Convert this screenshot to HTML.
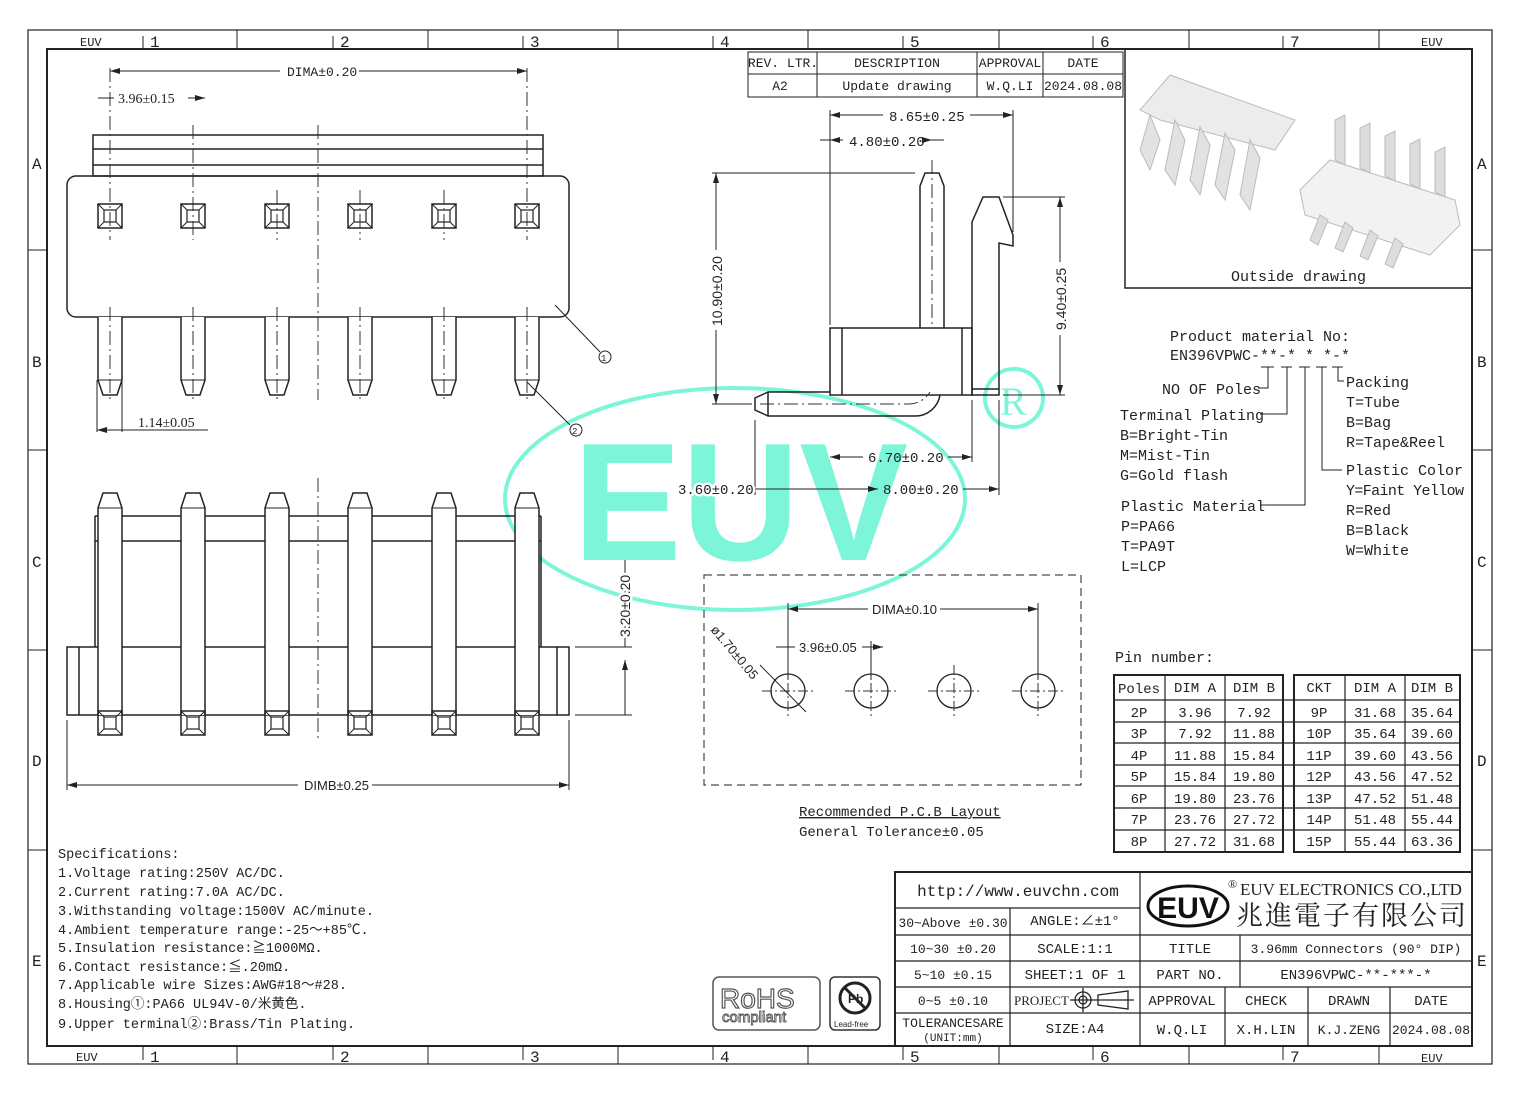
<!DOCTYPE html>
<html><head><meta charset="utf-8"><style>
html,body{margin:0;padding:0;background:#fff}
svg{display:block}
text{font-family:"Liberation Mono","Noto Sans CJK SC",monospace;fill:#222}
.s{font-family:"Liberation Serif","Noto Serif CJK SC",serif}
.a{font-family:"Liberation Sans",sans-serif}
.bg{paint-order:stroke;stroke:#fff;stroke-width:5px;stroke-linejoin:round}
</style></head><body>
<svg width="1520" height="1096" viewBox="0 0 1520 1096" xmlns="http://www.w3.org/2000/svg">
<defs>
<g id="sq"><rect x="-12" y="-12" width="24" height="24" fill="none" stroke="#222" stroke-width="1.5"/><rect x="-6" y="-6" width="12" height="12" fill="none" stroke="#222" stroke-width="1.2"/><path d="M-12-12L-6-6M12-12L6-6M-12 12L-6 6M12 12L6 6" stroke="#222"/></g>
<g id="pinb"><path d="M-12 0V63L-7 78H7L12 63V0" fill="#fff" stroke="#222" stroke-width="1.5"/><path d="M-12 63H12" stroke="#222"/><path d="M0-10V85" stroke="#333" stroke-dasharray="14 4 2 4"/></g>
<g id="pinf"><path d="M-12 222V15L-7 0H7L12 15V222" fill="#fff" stroke="#222" stroke-width="1.5"/><path d="M-12 15H12" stroke="#222"/></g>
<g id="hole"><circle r="17" fill="none" stroke="#222" stroke-width="1.3"/><path d="M-26 0H26M0-26V26" stroke="#333" stroke-dasharray="10 3 2 3"/></g>
<marker id="ar" markerWidth="10" markerHeight="6" refX="10" refY="3" orient="auto-start-reverse"><path d="M0 0L10 3L0 6z" fill="#222"/></marker>
</defs>
<rect x="28" y="30" width="1464" height="1034" fill="none" stroke="#222" stroke-width="1.2"/>
<rect x="47" y="49" width="1425" height="997" fill="none" stroke="#222" stroke-width="2"/>
<g stroke="#222" stroke-width="1">
<path d="M237 30V49M428 30V49M618 30V49M808 30V49M999 30V49M1189 30V49M1379 30V49"/>
<path d="M237 1046V1064M428 1046V1064M618 1046V1064M808 1046V1064M999 1046V1064M1189 1046V1064M1379 1046V1064"/>
<path d="M28 250H47M28 450H47M28 650H47M28 850H47M1472 250H1492M1472 450H1492M1472 650H1492M1472 850H1492"/>
<path d="M143 36V49M333 36V49M523 36V49M713 36V49M903 36V49M1093 36V49M1283 36V49"/>
<path d="M143 1046V1060M333 1046V1060M523 1046V1060M713 1046V1060M903 1046V1060M1093 1046V1060M1283 1046V1060"/>
</g>
<g font-size="16">
<text x="150" y="47">1</text><text x="340" y="47">2</text><text x="530" y="47">3</text><text x="720" y="47">4</text><text x="910" y="47">5</text><text x="1100" y="47">6</text><text x="1290" y="47">7</text>
<text x="150" y="1062">1</text><text x="340" y="1062">2</text><text x="530" y="1062">3</text><text x="720" y="1062">4</text><text x="910" y="1062">5</text><text x="1100" y="1062">6</text><text x="1290" y="1062">7</text>
<text x="32" y="169">A</text><text x="32" y="367">B</text><text x="32" y="567">C</text><text x="32" y="766">D</text><text x="32" y="966">E</text>
<text x="1477" y="169">A</text><text x="1477" y="367">B</text><text x="1477" y="567">C</text><text x="1477" y="766">D</text><text x="1477" y="966">E</text>
</g>
<g font-size="12"><text x="80" y="46">EUV</text><text x="1421" y="46">EUV</text><text x="76" y="1061">EUV</text><text x="1421" y="1062">EUV</text></g>

<ellipse cx="735" cy="499" rx="230" ry="111" fill="none" stroke="#7df5d8" stroke-width="4"/>
<text x="573" y="560" font-size="168" font-weight="bold" class="a" style="fill:#7df5d8" textLength="335" lengthAdjust="spacingAndGlyphs">EUV</text>
<circle cx="1014" cy="398" r="29" fill="none" stroke="#7df5d8" stroke-width="4"/>
<text x="1000" y="415" font-size="40" class="s" style="fill:#7df5d8">R</text>

<g stroke="#222" fill="none"><rect x="748" y="52" width="375" height="45"/><path d="M748 74H1123M817 52V97M977 52V97M1043 52V97"/></g>
<g font-size="13" text-anchor="middle"><text x="783" y="67">REV. LTR.</text><text x="897" y="67">DESCRIPTION</text><text x="1010" y="67">APPROVAL</text><text x="1083" y="67">DATE</text>
<text x="780" y="90">A2</text><text x="897" y="90">Update drawing</text><text x="1010" y="90">W.Q.LI</text><text x="1083" y="90">2024.08.08</text></g>

<rect x="1125" y="49" width="347" height="239" fill="none" stroke="#222" stroke-width="1.5"/>
<g fill="#ececec" stroke="#bbb">
<path d="M1140 110L1170 75L1295 120L1275 150L1160 120Z"/>
<path d="M1150 115L1140 150L1150 170L1160 140ZM1175 120L1165 170L1175 185L1185 140ZM1200 127L1190 180L1200 195L1210 145ZM1225 133L1215 185L1225 200L1235 150ZM1250 140L1240 195L1250 210L1260 158Z" fill="#e2e2e2"/>
<path d="M1300 190L1330 160L1455 200L1460 225L1430 255L1305 215Z" fill="#f2f2f2"/>
<path d="M1335 160V120L1345 115V165ZM1360 168V128L1370 123V173ZM1385 176V136L1395 131V181ZM1410 184V144L1420 139V189ZM1435 192V152L1445 147V197Z" fill="#ddd"/>
<path d="M1320 215L1310 240L1318 245L1328 220ZM1345 222L1335 248L1343 252L1353 228ZM1370 230L1360 256L1368 260L1378 236ZM1395 238L1385 264L1393 268L1403 244Z" fill="#ddd"/>
</g>
<text x="1231" y="281" font-size="15">Outside drawing</text>

<g stroke="#222" stroke-width="1.5" fill="none">
<rect x="93" y="135" width="450" height="41"/><path d="M93 149H543M93 165H543"/>
<rect x="67" y="176" width="502" height="141" rx="9"/>
</g>
<path d="M318 125V400" stroke="#333" stroke-dasharray="14 4 2 4"/>
<g stroke="#333" stroke-dasharray="14 4 2 4"><path d="M110 68V240M527 68V240M193 125V240M277 190V240M360 190V240M444 190V240"/></g>
<use href="#sq" x="110" y="216"/><use href="#sq" x="193" y="216"/><use href="#sq" x="277" y="216"/><use href="#sq" x="360" y="216"/><use href="#sq" x="444" y="216"/><use href="#sq" x="527" y="216"/>
<use href="#pinb" x="110" y="317"/><use href="#pinb" x="193" y="317"/><use href="#pinb" x="277" y="317"/><use href="#pinb" x="360" y="317"/><use href="#pinb" x="444" y="317"/><use href="#pinb" x="527" y="317"/>
<g stroke="#222" fill="none">
<path d="M110 71H280M355 71H527" marker-start="url(#ar)" marker-end="url(#ar)"/>
<path d="M98 98H110M193 98H205" marker-end="url(#ar)"/><path d="M110 98H114M188 98H193"/>
<path d="M97 380V432M122 380V432"/><path d="M97 430H122H208" marker-start="url(#ar)"/>
<path d="M555 305L600 352"/><circle cx="605" cy="357" r="6"/>
<path d="M527 382L570 425"/><circle cx="576" cy="430" r="6"/>
</g>
<g font-size="14" class="a"><text x="287" y="76" font-size="13" class="bg">DIMA±0.20</text><text x="118" y="103" class="s">3.96±0.15</text><text x="138" y="427" class="s">1.14±0.05</text></g>
<text x="601" y="361" font-size="9">1</text><text x="572" y="434" font-size="9">2</text>

<g stroke="#222" stroke-width="1.5" fill="none">
<path d="M95 516H541M95 541H541M95 516V647M541 516V647"/>
<rect x="67" y="647" width="502" height="68"/><path d="M79 647V715M557 647V715"/>
</g>
<use href="#pinf" x="110" y="493"/><use href="#pinf" x="193" y="493"/><use href="#pinf" x="277" y="493"/><use href="#pinf" x="360" y="493"/><use href="#pinf" x="444" y="493"/><use href="#pinf" x="527" y="493"/>
<path d="M318 478V740" stroke="#333" stroke-dasharray="14 4 2 4"/>
<use href="#sq" x="110" y="723"/><use href="#sq" x="193" y="723"/><use href="#sq" x="277" y="723"/><use href="#sq" x="360" y="723"/><use href="#sq" x="444" y="723"/><use href="#sq" x="527" y="723"/>
<g stroke="#222" fill="none">
<path d="M67 720V790M569 720V790"/><path d="M67 785H298M372 785H569" marker-start="url(#ar)" marker-end="url(#ar)"/>
<path d="M575 647H632M575 715H632"/><path d="M625 560V647M625 715V660" marker-end="url(#ar)"/>
</g>
<text x="304" y="790" font-size="13" class="a">DIMB±0.25</text>
<text transform="translate(630 637) rotate(-90)" font-size="14" class="a bg">3.20±0.20</text>

<g stroke="#222" stroke-width="1.5" fill="none">
<path d="M920 328V186L925 173H939L944 186V328"/>
<path d="M972 328V222L983 197H999L1013 235V246L999 243V395H972Z"/>
<path d="M972 389H999"/>
<path d="M830 392H768L755 398V410L768 416H915A25 25 0 0 0 940 395"/>
<path d="M768 392V416"/>
<rect x="830" y="328" width="142" height="67"/><path d="M842 328V395M962 328V395"/>
</g>
<path d="M932 160V325M760 404H910A25 25 0 0 0 930 392" stroke="#333" fill="none" stroke-dasharray="14 4 2 4"/>
<g stroke="#222" fill="none">
<path d="M830 110V325M1013 110V232M755 420V495M999 400V495M972 400V462"/>
<path d="M830 115H883M970 115H1013" marker-start="url(#ar)" marker-end="url(#ar)"/>
<path d="M820 140H830M932 140H944"/><path d="M830 140H843" marker-start="url(#ar)"/><path d="M930 140H932" marker-end="url(#ar)"/>
<path d="M712 173H915M712 404H752"/><path d="M716 173V250M716 330V404" marker-start="url(#ar)" marker-end="url(#ar)"/>
<path d="M1003 197H1065M1003 395H1065"/><path d="M1060 197V262M1060 335V395" marker-start="url(#ar)" marker-end="url(#ar)"/>
<path d="M830 457H863M948 457H972" marker-start="url(#ar)" marker-end="url(#ar)"/>
<path d="M745 489H755M830 489H878" marker-end="url(#ar)" marker-start="url(#ar)"/><path d="M755 489H830"/><path d="M963 489H999" marker-end="url(#ar)"/>
</g>
<g font-size="14" class="a"><text x="889" y="121">8.65±0.25</text><text x="849" y="146">4.80±0.20</text><text x="868" y="462">6.70±0.20</text><text x="883" y="494">8.00±0.20</text><text x="678" y="494" class="bg">3.60±0.20</text></g>
<text transform="translate(722 326) rotate(-90)" font-size="14" class="a">10.90±0.20</text>
<text transform="translate(1066 330) rotate(-90)" font-size="14" class="a">9.40±0.25</text>

<rect x="704" y="575" width="377" height="210" fill="none" stroke="#222" stroke-dasharray="8 5"/>
<use href="#hole" x="788" y="691"/><use href="#hole" x="871" y="691"/><use href="#hole" x="954" y="691"/><use href="#hole" x="1038" y="691"/>
<g stroke="#222" fill="none">
<path d="M788 603V680M1038 603V680M871 641V680"/>
<path d="M788 609H868M940 609H1038" marker-start="url(#ar)" marker-end="url(#ar)"/>
<path d="M776 647H788M871 647H883" marker-end="url(#ar)"/><path d="M788 647H795M862 647H871"/>
<path d="M760 665L806 712"/>
</g>
<text x="872" y="614" font-size="13" class="a">DIMA±0.10</text>
<text x="799" y="652" font-size="13" class="a">3.96±0.05</text>
<text transform="translate(710 630) rotate(50)" font-size="13" class="a">ø1.70±0.05</text>
<text x="799" y="816" font-size="14" text-decoration="underline">Recommended P.C.B Layout</text>
<text x="799" y="836" font-size="14">General Tolerance±0.05</text>

<g font-size="15">
<text x="1170" y="341">Product material No:</text>
<text x="1170" y="360">EN396VPWC-**-* * *-*</text>
<text x="1162" y="394">NO OF Poles</text>
<text x="1120" y="420">Terminal Plating</text>
<text x="1120" y="440">B=Bright-Tin</text><text x="1120" y="460">M=Mist-Tin</text><text x="1120" y="480">G=Gold flash</text>
<text x="1121" y="511">Plastic Material</text>
<text x="1121" y="531">P=PA66</text><text x="1121" y="551">T=PA9T</text><text x="1121" y="571">L=LCP</text>
<text x="1346" y="387">Packing</text><text x="1346" y="407">T=Tube</text><text x="1346" y="427">B=Bag</text><text x="1346" y="447">R=Tape&amp;Reel</text>
<text x="1346" y="475">Plastic Color</text><text x="1346" y="495" textLength="118">Y=Faint Yellow</text><text x="1346" y="515">R=Red</text><text x="1346" y="535">B=Black</text><text x="1346" y="555">W=White</text>
<text x="1115" y="662">Pin number:</text>
</g>
<g stroke="#222" fill="none">
<path d="M1261 367H1274M1281 367H1292M1299 367H1310M1316 367H1327M1332 367H1343"/>
<path d="M1268 367V388H1258M1287 367V414H1260M1305 367V505H1260M1322 367V470H1342M1338 367V381H1344"/>
</g>

<g stroke="#222" fill="none" stroke-width="1.2">
<rect x="1114" y="675" width="169" height="177" stroke-width="2"/><rect x="1294" y="675" width="166" height="177" stroke-width="2"/>
<path d="M1165 675V852M1225 675V852M1345 675V852M1405 675V852"/>
<path d="M1114 700H1460M1114 722H1460M1114 743H1460M1114 765H1460M1114 786H1460M1114 808H1460M1114 830H1460"/>
</g>
<g font-size="14" text-anchor="middle">
<text x="1139" y="693">Poles</text><text x="1195" y="692">DIM A</text><text x="1254" y="692">DIM B</text><text x="1319" y="692">CKT</text><text x="1375" y="692">DIM A</text><text x="1432" y="692">DIM B</text>
<text x="1139" y="717">2P</text><text x="1195" y="717">3.96</text><text x="1254" y="717">7.92</text><text x="1319" y="717">9P</text><text x="1375" y="717">31.68</text><text x="1432" y="717">35.64</text>
<text x="1139" y="738">3P</text><text x="1195" y="738">7.92</text><text x="1254" y="738">11.88</text><text x="1319" y="738">10P</text><text x="1375" y="738">35.64</text><text x="1432" y="738">39.60</text>
<text x="1139" y="760">4P</text><text x="1195" y="760">11.88</text><text x="1254" y="760">15.84</text><text x="1319" y="760">11P</text><text x="1375" y="760">39.60</text><text x="1432" y="760">43.56</text>
<text x="1139" y="781">5P</text><text x="1195" y="781">15.84</text><text x="1254" y="781">19.80</text><text x="1319" y="781">12P</text><text x="1375" y="781">43.56</text><text x="1432" y="781">47.52</text>
<text x="1139" y="803">6P</text><text x="1195" y="803">19.80</text><text x="1254" y="803">23.76</text><text x="1319" y="803">13P</text><text x="1375" y="803">47.52</text><text x="1432" y="803">51.48</text>
<text x="1139" y="824">7P</text><text x="1195" y="824">23.76</text><text x="1254" y="824">27.72</text><text x="1319" y="824">14P</text><text x="1375" y="824">51.48</text><text x="1432" y="824">55.44</text>
<text x="1139" y="846">8P</text><text x="1195" y="846">27.72</text><text x="1254" y="846">31.68</text><text x="1319" y="846">15P</text><text x="1375" y="846">55.44</text><text x="1432" y="846">63.36</text>
</g>

<g font-size="13.5">
<text x="58" y="858">Specifications:</text>
<text x="58" y="877">1.Voltage rating:250V AC/DC.</text>
<text x="58" y="896">2.Current rating:7.0A AC/DC.</text>
<text x="58" y="915">3.Withstanding voltage:1500V AC/minute.</text>
<text x="58" y="934">4.Ambient temperature range:-25～+85℃.</text>
<text x="58" y="952">5.Insulation resistance:≧1000MΩ.</text>
<text x="58" y="971">6.Contact resistance:≦.20mΩ.</text>
<text x="58" y="989">7.Applicable wire Sizes:AWG#18～#28.</text>
<text x="58" y="1008">8.Housing①:PA66 UL94V-0/米黄色.</text>
<text x="58" y="1028">9.Upper terminal②:Brass/Tin Plating.</text>
</g>
<rect x="713" y="977" width="107" height="53" rx="6" fill="none" stroke="#555" stroke-width="1.5"/>
<text x="720" y="1008" font-size="28" class="a" style="fill:#fff;stroke:#555;stroke-width:1.2">RoHS</text>
<text x="722" y="1022" font-size="15" class="a" style="fill:#fff;stroke:#555;stroke-width:0.9">compliant</text>
<rect x="830" y="977" width="50" height="53" rx="5" fill="none" stroke="#333" stroke-width="1.5"/>
<circle cx="855" cy="998" r="15" fill="none" stroke="#222" stroke-width="3"/><path d="M845 988L865 1008" stroke="#222" stroke-width="3"/>
<text x="848" y="1003" font-size="12" font-weight="bold" class="a">Pb</text>
<text x="834" y="1027" font-size="8" class="a">Lead-free</text>

<g stroke="#222" fill="none" stroke-width="1.2">
<rect x="895" y="872" width="577" height="174" stroke-width="2"/>
<path d="M895 908H1140M895 935H1472M895 961H1472M895 987H1472M895 1013H1472"/>
<path d="M1140 872V1046M1010 908V1046M1240 935V987M1225 987V1046M1308 987V1046M1390 987V1046"/>
</g>
<g font-size="14" text-anchor="middle">
<text x="1018" y="896" font-size="16">http://www.euvchn.com</text>
<text x="953" y="927" font-size="13">30~Above ±0.30</text><text x="1075" y="925">ANGLE:∠±1°</text>
<text x="953" y="953" font-size="13">10~30  ±0.20</text><text x="1075" y="953">SCALE:1:1</text><text x="1190" y="953">TITLE</text><text x="1356" y="953" font-size="13">3.96mm Connectors (90° DIP)</text>
<text x="953" y="979" font-size="13">5~10  ±0.15</text><text x="1075" y="979">SHEET:1 OF 1</text><text x="1190" y="979">PART NO.</text><text x="1356" y="979">EN396VPWC-**-***-*</text>
<text x="953" y="1005" font-size="13">0~5  ±0.10</text><text x="1182" y="1005">APPROVAL</text><text x="1266" y="1005">CHECK</text><text x="1349" y="1005">DRAWN</text><text x="1431" y="1005">DATE</text>
<text x="953" y="1027" font-size="13">TOLERANCESARE</text><text x="953" y="1041" font-size="11">(UNIT:mm)</text>
<text x="1075" y="1033">SIZE:A4</text><text x="1182" y="1034">W.Q.LI</text><text x="1266" y="1034">X.H.LIN</text><text x="1349" y="1034" font-size="13">K.J.ZENG</text><text x="1431" y="1034" font-size="13">2024.08.08</text>
</g>
<text x="1014" y="1005" font-size="13" class="s">PROJECT</text>
<g stroke="#222" fill="none" stroke-width="1.3"><circle cx="1083" cy="1000" r="8"/><circle cx="1083" cy="1000" r="4"/><path d="M1070 1000H1096M1083 988V1012M1098 995L1128 991V1009L1098 1005ZM1094 1000H1134"/></g>
<ellipse cx="1188" cy="906" rx="40" ry="20" fill="none" stroke="#111" stroke-width="3"/>
<text x="1188" y="918" font-size="30" font-weight="bold" class="a" text-anchor="middle" style="fill:#111">EUV</text>
<text x="1228" y="888" font-size="12" class="s">®</text>
<text x="1240" y="895" font-size="17" class="s">EUV ELECTRONICS CO.,LTD</text>
<text x="1236" y="925" font-size="27" style="font-family:'Noto Serif CJK SC','Noto Sans CJK SC',serif" textLength="230">兆進電子有限公司</text>
</svg>
</body></html>
